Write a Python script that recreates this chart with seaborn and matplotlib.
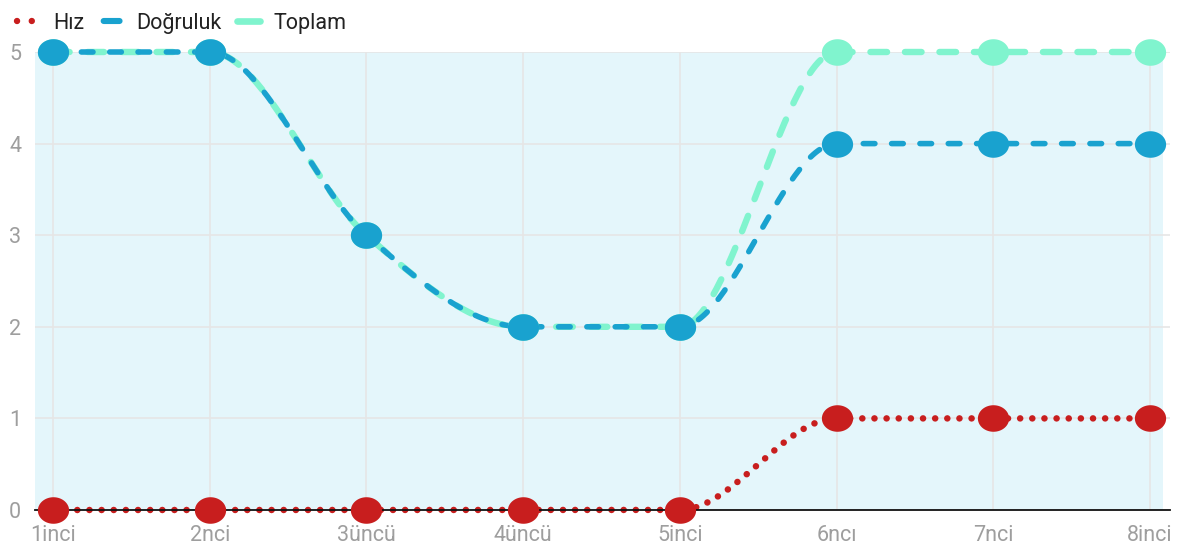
import numpy as np
import pandas as pd
import matplotlib
matplotlib.use("Agg")
import matplotlib.pyplot as plt
import seaborn as sns
from matplotlib.path import Path
from matplotlib.patches import Rectangle
from matplotlib.lines import Line2D

# ---- data ----
categories = ["1inci", "2nci", "3üncü", "4üncü", "5inci", "6ncı", "7nci", "8inci"]
hiz = [0, 0, 0, 0, 0, 1, 1, 1]
dogruluk = [5, 5, 3, 2, 2, 4, 4, 4]
toplam = [5, 5, 3, 2, 2, 5, 5, 5]
y_ticks = [0, 1, 2, 3, 4, 5]

RED = "#c81e1e"
BLUE = "#19a2cf"
GREEN = "#80f4ce"
BG = "#e4f6fb"
GRID = "#e6e6e6"
TICK = "#9e9e9e"

sns.set_theme(style="white")
plt.rcParams["font.family"] = ["Roboto", "DejaVu Sans"]


def monotone_curve(y, n=60):
    """Chart.js-style monotone cubic rendering of a series (display only)."""
    y = np.asarray(y, float)
    x = np.arange(len(y), dtype=float)
    d = np.diff(y)
    m = np.zeros(len(y))
    m[0] = d[0]
    m[-1] = d[-1]
    for i in range(1, len(y) - 1):
        if d[i - 1] == 0 or d[i] == 0 or np.sign(d[i - 1]) != np.sign(d[i]):
            m[i] = 0.0
        else:
            m[i] = (d[i - 1] + d[i]) / 2
    for i in range(len(d)):
        if d[i] == 0:
            m[i] = m[i + 1] = 0.0
            continue
        a, b = m[i] / d[i], m[i + 1] / d[i]
        s = a * a + b * b
        if s > 9:
            t = 3 / np.sqrt(s)
            m[i] = t * a * d[i]
            m[i + 1] = t * b * d[i]
    xs, ys = [], []
    for i in range(len(d)):
        t = np.linspace(0, 1, n, endpoint=(i == len(d) - 1))
        h00 = 2 * t**3 - 3 * t**2 + 1
        h10 = t**3 - 2 * t**2 + t
        h01 = -2 * t**3 + 3 * t**2
        h11 = t**3 - t**2
        xs.append(x[i] + t)
        ys.append(h00 * y[i] + h10 * m[i] + h01 * y[i + 1] + h11 * m[i + 1])
    return np.concatenate(xs), np.concatenate(ys)


# ellipse marker (slightly wider than tall)
th = np.linspace(0, 2 * np.pi, 60)
ell = Path(np.column_stack([1.0 * np.cos(th), 0.85 * np.sin(th)]), closed=True)

W, H = 1179, 544
fig = plt.figure(figsize=(W / 100, H / 100), dpi=100)
ax_l, ax_r, ax_t, ax_b = 35, 1170, 52, 510
ax = fig.add_axes([ax_l / W, (H - ax_b) / H, (ax_r - ax_l) / W, (ax_b - ax_t) / H])
ax.set_facecolor("none")

x_idx = np.arange(len(categories))
pxu = (1150 - 53) / 7.0
ax.set_xlim(-(53 - ax_l) / pxu, 7 + (ax_r - 1150) / pxu)
ax.set_ylim(0, 5)

# background panel
ax.add_patch(Rectangle((0, 0), (1163 - ax_l) / (ax_r - ax_l), 1, transform=ax.transAxes,
                       facecolor=BG, edgecolor="none", zorder=0))

series = [
    ("Toplam", toplam, GREEN, 4.6, (0, (2.6, 2.8)), 2),
    ("Doğruluk", dogruluk, BLUE, 4.0, (0, (2.1, 3.0)), 3),
    ("Hız", hiz, RED, 4.7, (0, (0.01, 1.85)), 4),
]
for name, vals, col, lw, ls, z in series:
    cx, cy = monotone_curve(vals)
    df = pd.DataFrame({"x": cx, "y": cy})
    sns.lineplot(data=df, x="x", y="y", ax=ax, color=col, linewidth=lw, sort=False,
                 estimator=None, zorder=z)
    ln = ax.lines[-1]
    ln.set_linestyle(ls)
    ln.set_dash_capstyle("round")
    ln.set_clip_on(False)
for name, vals, col, lw, ls, z in series:
    pdf = pd.DataFrame({"x": x_idx, "y": vals})
    sns.scatterplot(data=pdf, x="x", y="y", ax=ax, color=col, marker=ell, s=22.5**2,
                    linewidth=0, zorder=z + 10)
    ax.collections[-1].set_clip_on(False)

ax.set_xticks(x_idx)
ax.set_xticklabels(categories)
ax.set_yticks(y_ticks)
ax.set_yticklabels([str(v) for v in y_ticks])
ax.set_xlabel("")
ax.set_ylabel("")
ax.tick_params(axis="both", length=0, labelsize=15.5, labelcolor=TICK)
ax.tick_params(axis="x", pad=11)
ax.tick_params(axis="y", pad=10)
ax.grid(True, color=GRID, linewidth=1.2, zorder=1)
ax.set_axisbelow(True)
for s in ["top", "right", "left"]:
    ax.spines[s].set_visible(False)
ax.spines["bottom"].set_color("#111111")
ax.spines["bottom"].set_linewidth(1.3)
ax.spines["bottom"].set_zorder(5)

handles = [
    Line2D([], [], color=RED, lw=4.6, linestyle=(0.0, (0.01, 2.3)), dash_capstyle="round"),
    Line2D([], [], color=BLUE, lw=4.4, linestyle=(-0.6, (2.6, 10)), dash_capstyle="round"),
    Line2D([], [], color=GREEN, lw=4.8, linestyle=(0, (3.6, 10)), dash_capstyle="round"),
]
leg = fig.legend(handles, ["Hız", "Doğruluk", "Toplam"], loc="upper left",
                 bbox_to_anchor=(-0.002, 1.012), ncol=3, frameon=False, fontsize=15.5,
                 handlelength=1.1, handletextpad=0.6, columnspacing=0.7)
for t in leg.get_texts():
    t.set_color("#222222")

fig.savefig("out.png", dpi=100)
